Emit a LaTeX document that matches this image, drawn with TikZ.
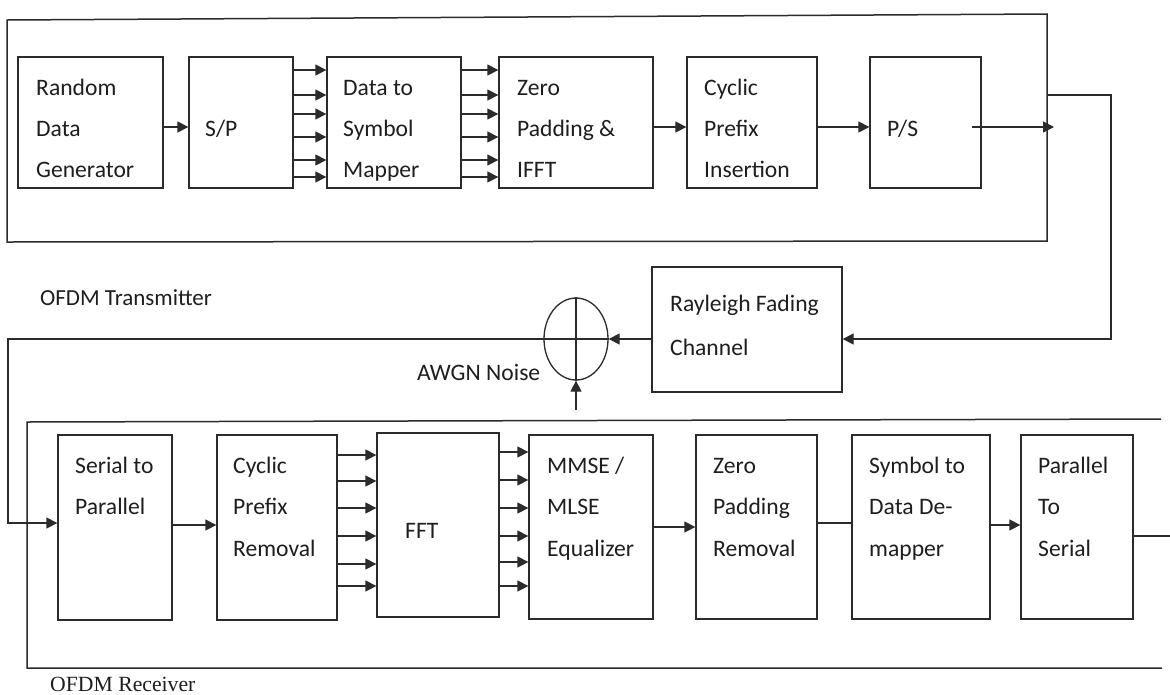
\documentclass[tikz,border=0pt]{standalone}
\usepackage{fontspec}
\setmainfont{Carlito}
\newfontfamily\timesf{Liberation Serif}
\usetikzlibrary{arrows.meta,shapes.geometric}
\definecolor{ln}{HTML}{2B2B2B}
\definecolor{tx}{HTML}{1E1E1E}
\begin{document}
\begin{tikzpicture}[x=1pt,y=-1pt,
  box/.style={draw=ln,line width=1.3pt,inner sep=0pt},
  lbl/.style={anchor=base west,inner sep=0pt,text=tx,font=\fontsize{23.6}{28}\selectfont},
  arr/.style={draw=ln,line width=1.3pt,-{Triangle[length=11pt,width=11pt]}},
  wire/.style={draw=ln,line width=1.3pt},
  frame/.style={draw=ln,line width=1.5pt}]
\useasboundingbox (0,0) rectangle (1170,694);
\fill[white] (0,0) rectangle (1170,694);

% ---------- transmitter ----------
\draw[frame] (7,20) -- (1047,14) -- (1047,241) -- (7,242) -- cycle;
\node[box,minimum width=145pt,minimum height=131pt] (rdg) at (90.5,122.5) {};
\node[box,minimum width=104pt,minimum height=131pt] (sp)  at (241,122.5) {};
\node[box,minimum width=134pt,minimum height=131pt] (dsm) at (394,122.5) {};
\node[box,minimum width=154pt,minimum height=131pt] (zpi) at (576,122.5) {};
\node[box,minimum width=130pt,minimum height=131pt] (cpi) at (752,122.5) {};
\node[box,minimum width=111pt,minimum height=131pt] (ps)  at (925.5,122.5) {};

\node[lbl] (rdg1) at (36,95) {Random};
\node[lbl] (rdg2) at (36,136) {Data};
\node[lbl] (rdg3) at (36,177) {Generator};
\node[lbl] (sp1) at (205,136) {S/P};
\node[lbl] (dsm1) at (343,95) {Data to};
\node[lbl] (dsm2) at (343,136) {Symbol};
\node[lbl] (dsm3) at (343,177) {Mapper};
\node[lbl] (zpi1) at (517,95) {Zero};
\node[lbl] (zpi2) at (517,136) {Padding \&};
\node[lbl] (zpi3) at (517,177) {IFFT};
\node[lbl] (cpi1) at (704,95) {Cyclic};
\node[lbl] (cpi2) at (704,136) {Prefix};
\node[lbl] (cpi3) at (704,177) {Insertion};
\node[lbl] (ps1) at (887,136) {P/S};

\draw[arr] (rdg.east |- 0,127) -- (sp.west |- 0,127);
\foreach \y in {70,95,114,137,160,177}{
  \draw[arr] (sp.east |- 0,\y) -- (dsm.west |- 0,\y);
  \draw[arr] (dsm.east |- 0,\y) -- (zpi.west |- 0,\y);
}
\draw[arr] (zpi.east |- 0,127) -- (cpi.west |- 0,127);
\draw[arr] (cpi.east |- 0,127) -- (ps.west |- 0,127);
\coordinate (psi) at (972,127);
\coordinate (txo) at (1054,127);
\draw[arr] (psi) -- (txo);

\node[lbl,font=\fontsize{23}{28}\selectfont] (txlab) at (40,305) {OFDM Transmitter};

% ---------- channel ----------
\node[box,minimum width=190pt,minimum height=125pt] (ray) at (747,329.5) {};
\node[lbl] (ray1) at (670,311) {Rayleigh Fading};
\node[lbl] (ray2) at (670,355) {Channel};
\coordinate (txr) at (1047,95);
\coordinate (c1) at (1111,95);
\draw[arr] (txr) -- (c1) |- (ray.east |- 0,339);

\node[draw=ln,line width=1.3pt,ellipse,minimum width=64pt,minimum height=82pt,inner sep=0pt] (sum) at (576,339) {};
\draw[wire] (sum.north) -- (sum.south);
\draw[arr] (ray.west |- 0,339) -- (sum.east);
\coordinate (nz) at (576,410);
\draw[arr] (nz) -- (sum.south);
\node[lbl] (awgn) at (417,380) {AWGN Noise};

% ---------- receiver ----------
\draw[frame] (1161,419) -- (27,422) -- (27,668) -- (1162,668);
\node[box,minimum width=114pt,minimum height=185pt] (s2p) at (115,527.5) {};
\node[box,minimum width=120pt,minimum height=185pt] (cpr) at (277,527.5) {};
\node[box,minimum width=122pt,minimum height=184pt] (fft) at (438,525) {};
\node[box,minimum width=124pt,minimum height=184pt] (eq)  at (591,527) {};
\node[box,minimum width=121pt,minimum height=184pt] (zpr) at (756.5,527) {};
\node[box,minimum width=138pt,minimum height=184pt] (sdd) at (921,527) {};
\node[box,minimum width=112pt,minimum height=184pt] (pts) at (1077,527) {};

\node[lbl] (s2p1) at (75,473) {Serial to};
\node[lbl] (s2p2) at (75,514) {Parallel};
\node[lbl] (cpr1) at (233,473) {Cyclic};
\node[lbl] (cpr2) at (233,514) {Prefix};
\node[lbl] (cpr3) at (233,556) {Removal};
\node[lbl] (fft1) at (405,538) {FFT};
\node[lbl] (eq1) at (547,473) {MMSE /};
\node[lbl] (eq2) at (547,514) {MLSE};
\node[lbl] (eq3) at (547,556) {Equalizer};
\node[lbl] (zpr1) at (713,473) {Zero};
\node[lbl] (zpr2) at (713,514) {Padding};
\node[lbl] (zpr3) at (713,556) {Removal};
\node[lbl] (sdd1) at (869,473) {Symbol to};
\node[lbl] (sdd2) at (869,514) {Data De-};
\node[lbl] (sdd3) at (869,556) {mapper};
\node[lbl] (pts1) at (1038,473) {Parallel};
\node[lbl] (pts2) at (1038,514) {To};
\node[lbl] (pts3) at (1038,556) {Serial};

\coordinate (rx1) at (8,339);
\coordinate (rx2) at (8,523);
\draw[arr] (sum.east) -- (rx1) -- (rx2) -- (s2p.west |- rx2);
\draw[arr] (s2p.east |- 0,525) -- (cpr.west |- 0,525);
\foreach \y in {455,481,508,536,564,586}{
  \draw[arr] (cpr.east |- 0,\y) -- (fft.west |- 0,\y);
}
\foreach \y in {452,480,508,536,562,586}{
  \draw[arr] (fft.east |- 0,\y) -- (eq.west |- 0,\y);
}
\draw[arr] (eq.east |- 0,527) -- (zpr.west |- 0,527);
\draw[wire] (zpr.east |- 0,523) -- (sdd.west |- 0,523);
\draw[arr] (sdd.east |- 0,525) -- (pts.west |- 0,525);
\coordinate (out) at (1181,536);
\draw[arr] (pts.east |- out) -- (out);

\node[anchor=base west,inner sep=0pt,text=tx,font=\timesf\fontsize{21.7}{26}\selectfont] (rxlab) at (50,691) {OFDM Receiver};
\end{tikzpicture}
\end{document}
